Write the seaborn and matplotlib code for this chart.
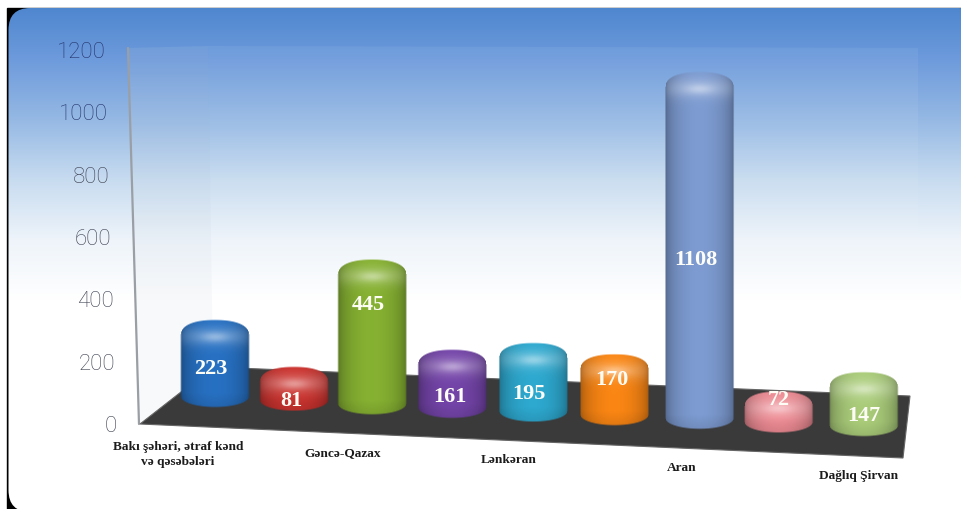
"""
Regional bar chart redrawn with faux 3D cylinders on a gradient card.
Heights come from a seaborn barplot, the cylinders are painted over its geometry.
"""

import numpy as np
import pandas as pd
import matplotlib
matplotlib.use("Agg")
import matplotlib.pyplot as plt
from matplotlib.patches import FancyBboxPatch, Polygon, Rectangle
from matplotlib.transforms import ScaledTranslation
import seaborn as sns

# data
slots = [0, 1, 2, 3, 4, 5, 6, 7, 8]
values = [223, 81, 445, 161, 195, 170, 1108, 72, 147]
category_labels = ["Bakı şəhəri, ətraf kənd\nvə qəsəbələri", "", "Gəncə-Qazax", "", "Lənkəran", "", "Aran", "", "Dağlıq Şirvan"]
y_ticks = [0, 200, 400, 600, 800, 1000, 1200]
bar_colors = ["#2468b4", "#bc2f2b", "#7ca42e", "#6b3f9c", "#2a9cc0", "#e87c12", "#7490c2", "#dc8088", "#9dbd70"]

# layout, in pixels of the 961x509 picture
W, H = 961, 509
SLOT_PX = 81.1
LEFT_PX = 174.45
AXIS_ZERO_PX = 424
AXIS_TOP_PX = 50
FLOOR_DROP = 3.63   # floor falls to the right, per slot
DEPTH_SCALE = 0.978
BAR_NUDGE = [0, -2, -5, -6, -6, -6, -2, -4, 0]
VALUE_SHIFT = [5.5, 12, -31.5, 13.5, 11.5, -9.5, 10, -11.5, 12]
VALUE_DX = [-4, -3, -4, -2, -4, -3, -4, 0, 0]
XLABEL_SHIFT = {0: (-37, 17), 2: (-35, 23), 4: (-31, 30), 6: (-20, 38), 8: (-5, 46)}

sns.set_style("white")
plt.rcParams["font.family"] = ["Roboto", "DejaVu Sans"]

fig = plt.figure(figsize=(W / 100, H / 100), dpi=100, facecolor="white")
bg = fig.add_axes([0, 0, 1, 1], zorder=0)
bg.set_xlim(0, W)
bg.set_ylim(H, 0)
bg.axis("off")

ax = fig.add_axes([LEFT_PX / W, (H - AXIS_ZERO_PX) / H, SLOT_PX * 9 / W, (AXIS_ZERO_PX - AXIS_TOP_PX) / H], zorder=1)
ax.patch.set_alpha(0)

df = pd.DataFrame({"slot": slots, "value": values})
sns.barplot(data=df, x="slot", y="value", hue="slot", palette=bar_colors, legend=False, width=0.84, ax=ax)
ax.set_ylim(0, 1200)
ax.set_xlim(-0.5, 8.5)
ax.set_xlabel("")
ax.set_ylabel("")
sns.despine(ax=ax, left=True, bottom=True)
ax.grid(False)

# card: black corners behind a rounded gradient panel
bg.add_patch(Rectangle((7, 8), W - 7, H - 8, color="black", zorder=0))
stops_y = [8, 60, 120, 180, 240, 300, 509]
stops_rgb = np.array([(79, 135, 207), (110, 155, 220), (150, 185, 228), (200, 220, 240), (238, 244, 250), (255, 255, 255), (255, 255, 255)]) / 255
yy = np.arange(0, H + 1)
grad = np.stack([np.interp(yy, stops_y, stops_rgb[:, c]) for c in range(3)], axis=1)[:, None, :]
card = FancyBboxPatch((8.5, 8), 972, 504, boxstyle="round,pad=0,rounding_size=22", transform=bg.transData, fc="none", ec="none")
bg.add_patch(card)
im = bg.imshow(grad, extent=(0, W, H, 0), aspect="auto", zorder=1, interpolation="bilinear")
im.set_clip_path(card)

# walls and floor
bg.add_patch(Polygon([(208, 46), (918, 48), (918, 396), (213, 367)], fc="white", alpha=0.06, ec="none", zorder=2))
bg.add_patch(Polygon([(128, 48), (139, 424), (213, 367), (208, 46)], fc="#c8d2dc", alpha=0.12, ec="none", zorder=2))
bg.plot([128, 139], [48, 424], color="#9a9fa5", lw=1.6, zorder=3)
bg.add_patch(Polygon([(140, 424), (213, 367), (910, 396), (903, 458)], fc="#3a3a3a", ec="#666666", lw=0.8, zorder=3))


def paint_cylinder(cx, half, top, bottom, color, order):
    b_top, b_bot = 15, 10.5
    yt, yb = top + b_top, bottom - b_bot
    x0, x1 = int(cx - half - 3), int(cx + half + 4)
    y0, y1 = int(top - 3), int(bottom + 4)
    xs, ys = np.meshgrid(np.arange(x0, x1) + 0.5, np.arange(y0, y1) + 0.5)
    u = np.clip((xs - cx) / half, -1, 1)
    top_edge = yt - b_top * (1 - np.abs(u) ** 2.3) ** (1 / 2.3)
    bot_edge = yb + b_bot * np.sqrt(1 - u ** 2)
    dist = np.minimum.reduce([half - np.abs(xs - cx), ys - top_edge, bot_edge - ys])
    alpha = np.clip(dist / 1.8 + 0.5, 0, 1)

    base = np.array(matplotlib.colors.to_rgb(color))
    shade = 0.70 + 0.38 * np.sqrt(1 - u ** 2) ** 1.2
    shade = shade - 0.10 * np.clip((ys - (yb - 4)) / 14, 0, 1)
    rgb = base[None, None, :] * shade[..., None]
    # domed cap: soft light band, brighter spot in the middle
    band = np.exp(-((ys - (top + 16)) / 10) ** 2) * (0.20 * np.sqrt(1 - u ** 2) + 0.05)
    spot = np.exp(-(u / 0.40) ** 2 - ((ys - (top + 17)) / 5) ** 2) * 0.24
    mix = np.clip(band + spot, 0, 1)[..., None]
    rgb = rgb * (1 - mix) + mix
    rgba = np.dstack([np.clip(rgb, 0, 1), alpha])
    bg.imshow(rgba, extent=(x0, x1, y1, y0), aspect="auto", zorder=order, interpolation="bilinear")


# cylinders take their geometry from the seaborn bars
zero_px = ax.transData.transform((0, 0))[1]
unit_px = ax.transData.transform((0, 1))[1] - zero_px
for i, p in enumerate(ax.patches):
    center = p.get_x() + p.get_width() / 2
    cx = LEFT_PX + SLOT_PX * (center + 0.5) + BAR_NUDGE[i]
    half = p.get_width() * SLOT_PX / 2
    bottom = AXIS_ZERO_PX - 17 + FLOOR_DROP * i
    top = bottom - (p.get_height() * unit_px * DEPTH_SCALE + 19)
    paint_cylinder(cx, half, top, bottom, bar_colors[i], 5 + i)
    p.set_alpha(0)
    bg.text(cx + VALUE_DX[i], (top + bottom) / 2 + VALUE_SHIFT[i], str(values[i]), color="#fdfdf6", ha="center", va="center",
            fontsize=16, fontweight="bold", family=["Liberation Serif", "DejaVu Serif"], zorder=20)

# axis text, leaning with the wall
ax.set_yticks(y_ticks)
ax.set_yticklabels([str(t) for t in y_ticks])
ax.tick_params(axis="y", length=0, pad=0, labelsize=16, labelcolor="#3c4050")
for t, label in zip(y_ticks, ax.get_yticklabels()):
    right_edge = 117 - 11 * t / 1200
    label.set_fontweight("light")
    if t >= 1000:
        label.set_color("#24346c")
    label.set_transform(label.get_transform() + ScaledTranslation((right_edge - LEFT_PX) / 100, 0, fig.dpi_scale_trans))

ax.set_xticks(slots)
ax.set_xticklabels(category_labels)
ax.tick_params(axis="x", length=0, pad=0, labelsize=9.6, labelcolor="#1c1c1c")
for i, label in enumerate(ax.get_xticklabels()):
    label.set_fontfamily(["Liberation Serif", "DejaVu Serif"])
    label.set_fontweight("bold")
    label.set_linespacing(1.35)
    if i in XLABEL_SHIFT:
        dx, dy = XLABEL_SHIFT[i]
        label.set_transform(label.get_transform() + ScaledTranslation(dx / 100, -dy / 100, fig.dpi_scale_trans))

bg.set_xlim(0, W)
bg.set_ylim(H, 0)
fig.savefig("out.png", dpi=100, facecolor="white")
